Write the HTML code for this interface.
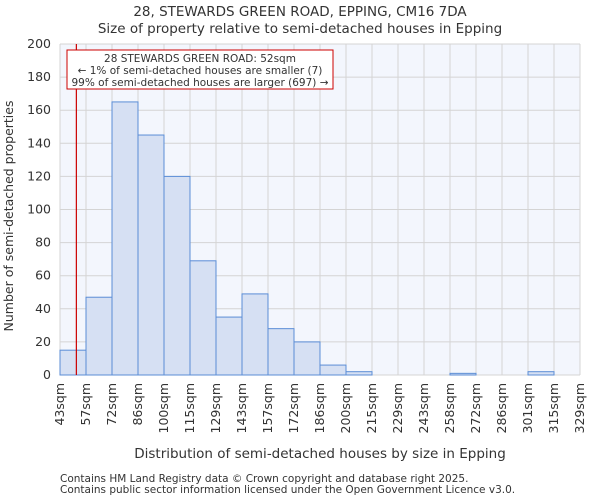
<!DOCTYPE html>
<html><head><meta charset="utf-8"><style>
body{margin:0;background:#fff;font-family:"DejaVu Sans","Liberation Sans",sans-serif}
svg text{font-family:"DejaVu Sans","Liberation Sans",sans-serif;fill:#333}
</style></head><body>
<svg width="600" height="500" xmlns="http://www.w3.org/2000/svg">
<text x="300" y="16" font-size="13.5" text-anchor="middle">28, STEWARDS GREEN ROAD, EPPING, CM16 7DA</text>
<text x="300" y="33" font-size="13.5" text-anchor="middle">Size of property relative to semi-detached houses in Epping</text>
<rect x="60" y="44" width="520" height="331" fill="#f3f6fd"/>
<g id="grid"></g><g id="bars"></g><g id="axes"></g>
<line id="marker" stroke="#cc0000" stroke-width="1.2"/>
<rect x="67" y="50" width="266" height="39" fill="#fff" stroke="#cc0000" stroke-width="1"/>
<text x="200" y="62" font-size="10.5" text-anchor="middle">28 STEWARDS GREEN ROAD: 52sqm</text>
<text x="200" y="74" font-size="10.5" text-anchor="middle">← 1% of semi-detached houses are smaller (7)</text>
<text x="200" y="86" font-size="10.5" text-anchor="middle">99% of semi-detached houses are larger (697) →</text>
<text x="320" y="458" font-size="13.5" text-anchor="middle">Distribution of semi-detached houses by size in Epping</text>
<text transform="translate(13,216) rotate(-90)" font-size="12.5" text-anchor="middle">Number of semi-detached properties</text>
<text x="60" y="482" font-size="10.5" fill="#555">Contains HM Land Registry data © Crown copyright and database right 2025.</text>
<text x="60" y="493" font-size="10.5">Contains public sector information licensed under the Open Government Licence v3.0.</text>
</svg>
<script>
const categories=["43sqm","57sqm","72sqm","86sqm","100sqm","115sqm","129sqm","143sqm","157sqm","172sqm","186sqm","200sqm","215sqm","229sqm","243sqm","258sqm","272sqm","286sqm","301sqm","315sqm","329sqm"];
const counts=[15,47,165,145,120,69,35,49,28,20,6,2,0,0,0,1,0,0,2,0];
const yTicks=[0,20,40,60,80,100,120,140,160,180,200];
const binStart=43, binWidth=14.3, propertySize=52;
const X0=60,W=520,Y0=375,H=331,yMax=200;
const bw=W/counts.length;
const xs=i=>X0+i*bw;
const ys=v=>Y0-v/yMax*H;
const NS="http://www.w3.org/2000/svg";
function mk(t,a){const e=document.createElementNS(NS,t);for(const k in a)e.setAttribute(k,a[k]);return e;}
const grid=document.getElementById('grid'),bars=document.getElementById('bars'),axes=document.getElementById('axes');
yTicks.forEach(v=>{
 const l=mk('line',{x1:X0,x2:X0+W,y1:ys(v),y2:ys(v),stroke:'#d4d4d4'});
 
 
 grid.appendChild(l);
 const t=mk('text',{x:X0-9,y:ys(v)+4,'font-size':12.5,'text-anchor':'end'});t.textContent=v;
 
 
 axes.appendChild(t);
});
categories.forEach((c,i)=>{
 const l=mk('line',{x1:xs(i),x2:xs(i),y1:Y0-H,y2:Y0,stroke:'#d4d4d4'});
 
 
 grid.appendChild(l);
 const t=mk('text',{transform:`translate(${xs(i)+4},${Y0+8}) rotate(-90)`,'font-size':12.5,'text-anchor':'end'});t.textContent=c;
 
 
 axes.appendChild(t);
});
counts.forEach((v,i)=>{
 const r=mk('rect',{x:xs(i),y:ys(v),width:bw,height:Y0-ys(v),fill:'#d6e0f3',stroke:'#5b8dd6','stroke-width':1});
 
 
 bars.appendChild(r);
});
const mx=X0+(propertySize-binStart)/binWidth*bw;
const m=document.getElementById('marker');
m.setAttribute('x1',mx);m.setAttribute('x2',mx);m.setAttribute('y1',Y0-H);m.setAttribute('y2',Y0);
</script>
</body></html>
